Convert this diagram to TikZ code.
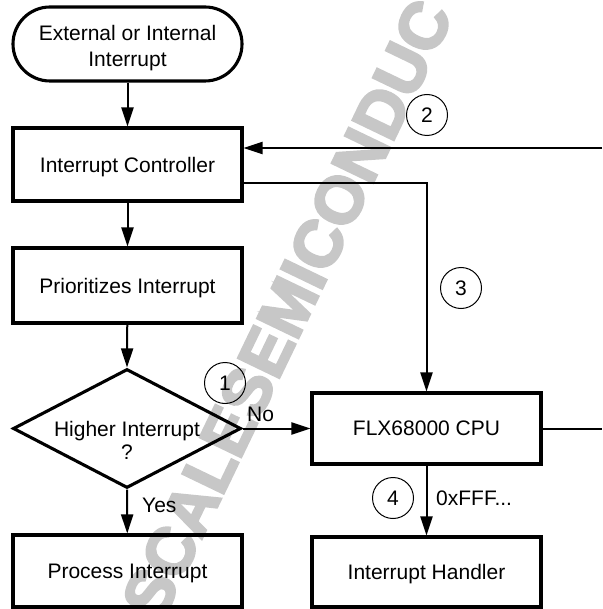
\documentclass[tikz,border=0pt]{standalone}
\usepackage{fontspec}
\setmainfont{Liberation Sans}
\newfontfamily\wmfont[FakeBold=4]{Liberation Sans Bold}
\usetikzlibrary{arrows.meta,shapes.geometric,calc}
\begin{document}
\begin{tikzpicture}[x=1pt,y=-1pt,
  every node/.style={font=\fontsize{21}{25}\selectfont},
  box/.style={draw,line width=3.1pt,minimum width=229pt,inner sep=0pt,text depth=0pt},
  conn/.style={line width=2pt},
  arr/.style={conn,-{Triangle[length=19pt,width=12pt]}},
  num/.style={draw,circle,line width=1pt,minimum size=41pt,inner sep=0pt},
  lbl/.style={inner sep=0pt,anchor=west}]
\useasboundingbox (0,0) rectangle (602,609);
\begin{scope}
\clip (0,0) rectangle (602,609);
\node[text=black!22, font=\wmfont\fontsize{66}{66}\selectfont, rotate=64.3] (wm) at (287,309) {SCALESEMICONDUC};
\end{scope}
% nodes
\node[box,rounded corners=37pt,minimum height=74pt] (start) at (127.5,44) {};
\node[align=center,inner sep=0pt,font=\fontsize{21}{26}\selectfont] (starttext) at (127.5,48) {External or Internal\\Interrupt};
\node[box,minimum height=73pt] (ctrl) at (127.5,164.5) {Interrupt Controller};
\node[box,minimum height=75pt] (prio) at (127.5,285.5) {Prioritizes Interrupt};
\node[draw,diamond,line width=3.1pt,minimum width=228pt,minimum height=119pt,inner sep=0pt] (dec) at (127,428.5) {};
\node[align=center,inner sep=0pt,font=\fontsize{21}{23}\selectfont] (dectext) at (127,440) {Higher Interrupt\\?};
\node[box,minimum height=71pt] (cpu) at (426.5,428.5) {FLX68000 CPU};
\node[box,minimum height=72pt] (proc) at (127.5,571) {Process Interrupt};
\node[box,minimum height=70pt] (hand) at (426.5,572) {Interrupt Handler};
% numbered circles
\node[num] (c1) at (225,383) {1};
\node[num] (c2) at (427,115) {2};
\node[num] (c3) at (461,288) {3};
\node[num] (c4) at (393,498) {4};
% free ends
\coordinate (in2) at (602,148);
\coordinate (turn3) at (426.5,183);
\coordinate (out) at (602,428.5);
% connectors
\draw[arr] (start) -- (ctrl);
\draw[arr] (in2) -- (in2 -| ctrl.east);
\draw[arr] (turn3 -| ctrl.east) -- (turn3) -- (cpu);
\draw[arr] (ctrl) -- (prio);
\draw[arr] (prio) -- (dec.north);
\draw[arr] (dec.east) -- (cpu.west);
\draw[arr] (dec.south) -- (proc);
\draw[conn] (cpu.east) -- (out);
\draw[arr] (cpu) -- (hand);
% labels
\node[lbl] (no) at (247,414) {No};
\node[lbl] (yes) at (142,505) {Yes};
\node[lbl] (addr) at (436,498) {0xFFF...};
\end{tikzpicture}
\end{document}
